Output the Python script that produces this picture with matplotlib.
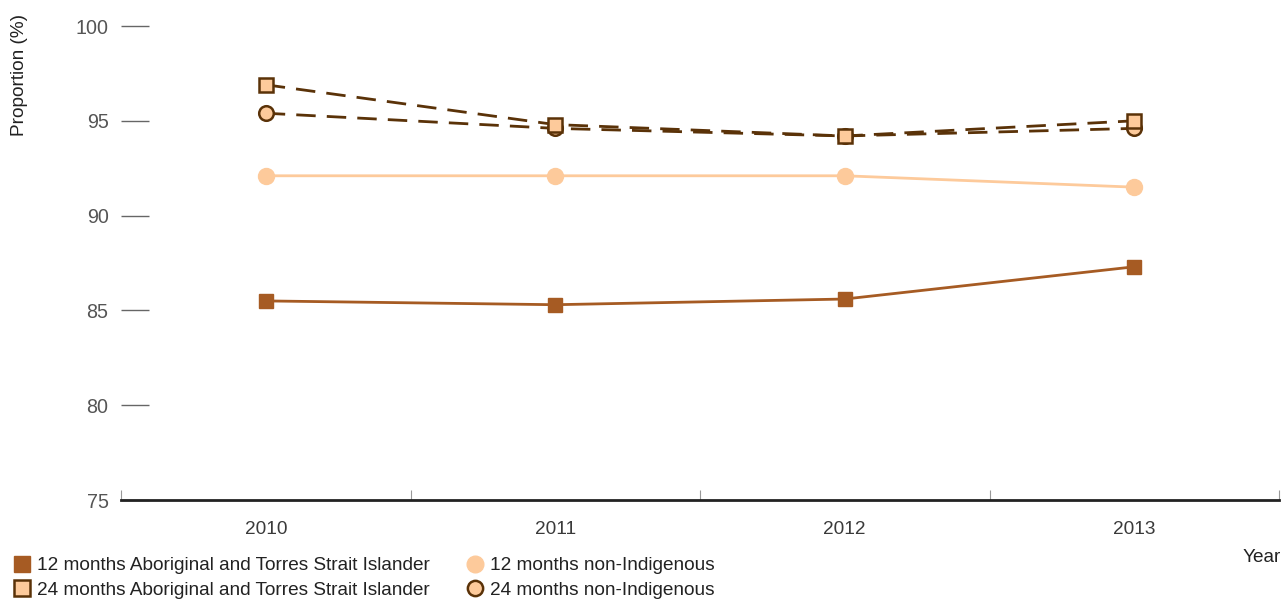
import matplotlib.pyplot as plt
from matplotlib.lines import Line2D

plt.rcParams['font.family'] = ['Liberation Sans', 'DejaVu Sans']

years = ['2010', '2011', '2012', '2013']
atsi_12 = [85.5, 85.3, 85.6, 87.3]
nonind_12 = [92.1, 92.1, 92.1, 91.5]
atsi_24 = [96.9, 94.8, 94.2, 95.0]
nonind_24 = [95.4, 94.6, 94.2, 94.6]
yticks = [75, 80, 85, 90, 95, 100]

brown = '#A65B23'
light = '#FDCA9B'
dark = '#5A3208'
grey = '#3a3a3a'
fs = 13.7

fig = plt.figure(figsize=(12.82, 5.99), dpi=100)
ax = fig.add_axes([121/1282, 1-500/599, 1158/1282, 474/599])

x = range(len(years))
ax.plot(x, atsi_12, color=brown, lw=2, marker='s', ms=10.5, mfc=brown, mec=brown, zorder=3)
ax.plot(x, nonind_12, color=light, lw=2, marker='o', ms=11.5, mfc=light, mec=light, zorder=3)
ax.plot(x, nonind_24, color=dark, lw=2, ls=(0, (7, 4)), marker='o', ms=10.5,
        mfc=light, mec=dark, mew=1.8, zorder=4)
ax.plot(x, atsi_24, color=dark, lw=2, ls=(0, (7, 4)), marker='s', ms=10.5,
        mfc=light, mec=dark, mew=1.8, zorder=5)

ax.set_xlim(-0.5, 3.5)
ax.set_ylim(75, 100)
ax.set_xticks(list(x))
ax.set_xticklabels(years)
ax.set_xticks([-0.5, 0.5, 1.5, 2.5, 3.5], minor=True)
ax.set_yticks(yticks)
ax.tick_params(axis='x', which='major', length=0, pad=15, labelsize=fs, labelcolor=grey)
ax.tick_params(axis='x', which='minor', direction='in', length=7, width=0.8, color='#999999')
ax.tick_params(axis='y', direction='in', length=20, width=1, color='#666666', pad=9,
               labelsize=fs + 0.5, labelcolor='#555555')

for s in ['left', 'right', 'top']:
    ax.spines[s].set_visible(False)
ax.spines['bottom'].set_color('#222222')
ax.spines['bottom'].set_linewidth(2)

fig.text(20/1282, 1-75/599, 'Proportion (%)', rotation=90, ha='center', va='center',
         fontsize=fs, color='#222222')
fig.text(1281/1282, 1-557/599, 'Year', ha='right', va='center', fontsize=fs, color='#222222')

handles = [
    Line2D([], [], ls='none', marker='s', ms=11, mfc=brown, mec=brown),
    Line2D([], [], ls='none', marker='s', ms=11, mfc=light, mec=dark, mew=1.8),
    Line2D([], [], ls='none', marker='o', ms=12, mfc=light, mec=light),
    Line2D([], [], ls='none', marker='o', ms=11, mfc=light, mec=dark, mew=1.8),
]
labels = ['12 months Aboriginal and Torres Strait Islander',
          '24 months Aboriginal and Torres Strait Islander',
          '12 months non-Indigenous',
          '24 months non-Indigenous']
fig.legend(handles, labels, ncol=2, loc='lower left', bbox_to_anchor=(-0.001, -0.022),
           frameon=False, fontsize=fs, handlelength=1.0, handletextpad=0.32,
           columnspacing=1.85, labelspacing=0.38, borderaxespad=0.3, labelcolor='#222222')

fig.savefig('out.png', dpi=100)
